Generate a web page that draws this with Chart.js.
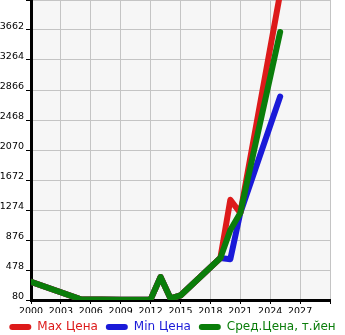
<!DOCTYPE html>
<html>
<head>
<meta charset="utf-8">
<script src="https://cdn.jsdelivr.net/npm/chart.js@4"></script>
<style>
  html, body { margin: 0; padding: 0; background: #fff; }
  #wrap { width: 345px; height: 335px; }
</style>
</head>
<body>
<div id="wrap"><canvas id="chart"></canvas></div>
<script>
// Данные
const YEARS = [2000, 2005, 2009, 2012, 2013, 2014, 2015, 2019, 2020, 2021, 2025];
const MAX_PRICE = [320, 90, 82, 88, 385, 100, 140, 637, 1410, 1235, 4150];
const MIN_PRICE = [320, 90, 82, 88, 385, 100, 140, 637, 622, 1235, 2780];
const AVG_PRICE = [320, 90, 82, 88, 385, 100, 140, 637, 1010, 1235, 3636];
const LABELS = ['Max Цена', 'Min Цена', 'Сред.Цена, т.йен'];
const COLORS = ['#dd1a1a', '#1a1ad8', '#0a7d0a'];
const Y_MIN = 80, Y_MAX = 4060, Y_STEP = 398;
const X_MIN = 2000, X_MAX = 2030, X_STEP = 3;

function toPoints(values) {
    return YEARS.map((y, i) => ({ x: y, y: values[i] }));
}

function makeSet(idx, values, order) {
    return {
        label: LABELS[idx],
        data: toPoints(values),
        borderColor: COLORS[idx],
        backgroundColor: COLORS[idx],
        borderWidth: 6,
        borderCapStyle: 'round',
        borderJoinStyle: 'round',
        pointRadius: 0,
        tension: 0,
        order: order
    };
}

const font = { family: 'DejaVu Sans', size: 9.5 };

new Chart(document.getElementById('chart'), {
    type: 'line',
    data: {
        // зелёная линия поверх остальных
        datasets: [makeSet(0, MAX_PRICE, 1), makeSet(1, MIN_PRICE, 2), makeSet(2, AVG_PRICE, 0)]
    },
    plugins: [{
        id: 'bg',
        beforeDraw(chart) {
            const a = chart.chartArea, ctx = chart.ctx;
            ctx.save();
            ctx.fillStyle = '#f6f6f6';
            ctx.fillRect(a.left, a.top, a.right - a.left, a.bottom - a.top);
            ctx.restore();
        }
    }],
    options: {
        responsive: true,
        maintainAspectRatio: false,
        animation: false,
        layout: { padding: 0 },
        scales: {
            x: {
                type: 'linear',
                min: X_MIN,
                max: X_MAX,
                afterFit: s => { s.height = 13; s.paddingLeft = 0; s.paddingRight = 0; },
                ticks: {
                    stepSize: X_STEP,
                    color: '#000',
                    font: font,
                    padding: 2,
                    maxRotation: 0,
                    callback: v => v === X_MAX ? '' : String(v)
                },
                grid: { color: '#c4c4c4', lineWidth: 1, tickLength: 4, tickColor: '#000' },
                border: { color: '#000', width: 3 }
            },
            y: {
                min: Y_MIN,
                max: Y_MAX,
                afterFit: s => { s.width = 31; s.paddingTop = 0; s.paddingBottom = 0; },
                ticks: {
                    stepSize: Y_STEP,
                    color: '#000',
                    font: font,
                    padding: 2,
                    labelOffset: -3,
                    callback: v => v === Y_MAX ? '' : String(v)
                },
                grid: { color: '#c4c4c4', lineWidth: 1, tickLength: 5, tickColor: '#000' },
                border: { color: '#000', width: 3 }
            },
            // пустое место справа
            pad: {
                position: 'right',
                display: true,
                afterFit: s => { s.width = 15; },
                ticks: { display: false },
                grid: { display: false, drawTicks: false },
                border: { display: false }
            }
        },
        plugins: {
            legend: {
                position: 'bottom',
                align: 'center',
                maxHeight: 22,
                labels: {
                    boxWidth: 22,
                    boxHeight: 6,
                    useBorderRadius: true,
                    borderRadius: 3,
                    padding: 8,
                    font: { family: 'DejaVu Sans', size: 12 },
                    generateLabels(chart) {
                        return chart.data.datasets.map((ds, i) => ({
                            text: ds.label,
                            fillStyle: ds.borderColor,
                            strokeStyle: ds.borderColor,
                            fontColor: ds.borderColor,
                            lineWidth: 0,
                            borderRadius: 3,
                            datasetIndex: i
                        }));
                    }
                }
            },
            tooltip: { enabled: false }
        }
    }
});
</script>
</body>
</html>
